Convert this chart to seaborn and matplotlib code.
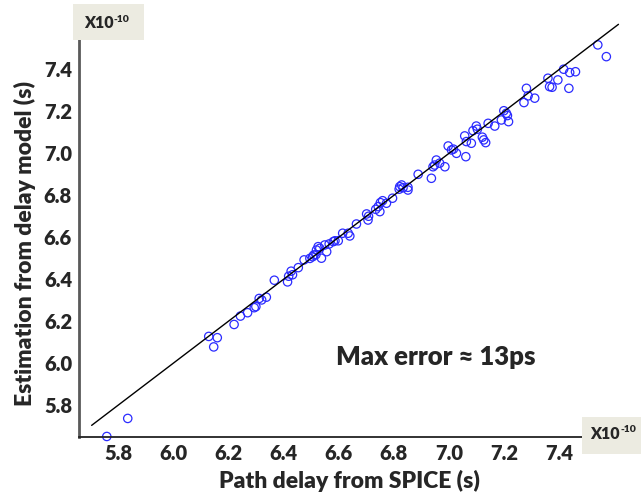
import numpy as np
import pandas as pd
import matplotlib
matplotlib.use("Agg")
import matplotlib.pyplot as plt
from matplotlib.patches import Rectangle
import seaborn as sns

# path delay from SPICE vs. model estimate, units of 1e-10 s
spice = [5.758, 5.834, 6.128, 6.146, 6.159, 6.220, 6.243, 6.269, 6.293, 6.299,
         6.311, 6.320, 6.337, 6.366, 6.414, 6.418, 6.427, 6.432, 6.453, 6.474,
         6.495, 6.505, 6.509, 6.517, 6.519, 6.525, 6.531, 6.537, 6.549, 6.556,
         6.565, 6.580, 6.586, 6.598, 6.614, 6.634, 6.640, 6.664, 6.701, 6.706,
         6.708, 6.734, 6.743, 6.749, 6.751, 6.759, 6.773, 6.795, 6.819, 6.821,
         6.828, 6.833, 6.851, 6.851, 6.888, 6.936, 6.942, 6.948, 6.954, 6.966,
         6.985, 6.997, 7.009, 7.016, 7.027, 7.057, 7.061, 7.063, 7.081, 7.087,
         7.099, 7.103, 7.121, 7.126, 7.133, 7.142, 7.166, 7.190, 7.199, 7.208,
         7.216, 7.212, 7.272, 7.281, 7.287, 7.311, 7.359, 7.365, 7.374, 7.395,
         7.416, 7.435, 7.438, 7.459, 7.540, 7.571]
model = [5.650, 5.736, 6.127, 6.077, 6.121, 6.184, 6.224, 6.240, 6.264, 6.269,
         6.308, 6.301, 6.314, 6.395, 6.387, 6.414, 6.438, 6.421, 6.455, 6.492,
         6.499, 6.507, 6.515, 6.517, 6.539, 6.555, 6.547, 6.500, 6.563, 6.531,
         6.568, 6.579, 6.583, 6.583, 6.619, 6.619, 6.606, 6.663, 6.711, 6.682,
         6.700, 6.733, 6.746, 6.722, 6.765, 6.774, 6.762, 6.786, 6.829, 6.841,
         6.849, 6.836, 6.838, 6.825, 6.900, 6.881, 6.936, 6.944, 6.968, 6.953,
         6.936, 7.035, 7.016, 7.020, 7.000, 7.083, 6.984, 7.056, 7.048, 7.108,
         7.130, 7.115, 7.077, 7.064, 7.051, 7.143, 7.130, 7.159, 7.203, 7.191,
         7.151, 7.180, 7.242, 7.310, 7.274, 7.263, 7.358, 7.318, 7.315, 7.350,
         7.401, 7.310, 7.385, 7.389, 7.517, 7.461]
ideal = [5.703, 7.615]
ticks = [5.8, 6.0, 6.2, 6.4, 6.6, 6.8, 7.0, 7.2, 7.4]
tick_labels = ["5.8", "6.0", "6.2", "6.4", "6.6", "6.8", "7.0", "7.2", "7.4"]

df = pd.DataFrame({"spice": spice, "model": model})

sns.set_style("white")
plt.rcParams["font.family"] = ["Lato", "DejaVu Sans"]

W, H = 641, 496
fig = plt.figure(figsize=(6.41, 4.96), dpi=100)
ax = fig.add_axes([0.1232, 0.1196, 0.8438, 0.8250])

sns.lineplot(x=ideal, y=ideal, ax=ax, color="black", linewidth=1.0, clip_on=False)
sns.scatterplot(data=df, x="spice", y="model", ax=ax, marker="o", s=36,
                facecolor="none", edgecolor="#2b2bff", linewidth=0.9, clip_on=False)

ax.set_xlim(5.657, 7.62)
ax.set_ylim(5.649, 7.60)
ax.set_xticks(ticks)
ax.set_xticklabels(tick_labels)
ax.set_yticks(ticks)
ax.set_yticklabels(tick_labels)
ax.tick_params(direction="in", length=5, width=1, labelsize=14.5, pad=5, color="#333333")
for lab in ax.get_xticklabels() + ax.get_yticklabels():
    lab.set_fontweight("heavy")

sns.despine(ax=ax)
ax.spines["left"].set_color("#5a5a5a")
ax.spines["left"].set_linewidth(2.0)
ax.spines["bottom"].set_color("#222222")
ax.spines["bottom"].set_linewidth(1.3)

ax.set_xlabel("Path delay from SPICE (s)", fontsize=16.5, fontweight="heavy", va="center")
ax.set_ylabel("Estimation from delay model (s)", fontsize=16.5, fontweight="heavy", va="center")
ax.xaxis.set_label_coords(0.5, -0.1083)
ax.yaxis.set_label_coords(-0.0998, 0.471)

fig.text(436 / W, 1 - 357 / H, "Max error \u2248 13ps", fontsize=18.5, fontweight="heavy",
         ha="center", va="center")

# exponent boxes
boxes = [(73, 4, 71, 36, 113.3, 28.3, 21.5), (582, 417, 59, 37, 620, 439.3, 432.5)]
for bx, by, bw, bh, split, base, sup_base in boxes:
    fig.patches.append(Rectangle((bx / W, 1 - (by + bh) / H), bw / W, bh / H,
                                 transform=fig.transFigure, facecolor="#ecebe1",
                                 edgecolor="none", zorder=5))
    fig.text(split / W, 1 - base / H, "X10", fontsize=11.5, fontweight="heavy",
             ha="right", va="baseline", zorder=6)
    fig.text((split + 0.5) / W, 1 - sup_base / H, "-10", fontsize=7.5, fontweight="heavy",
             ha="left", va="baseline", zorder=6)

fig.savefig("out.png", dpi=100)
